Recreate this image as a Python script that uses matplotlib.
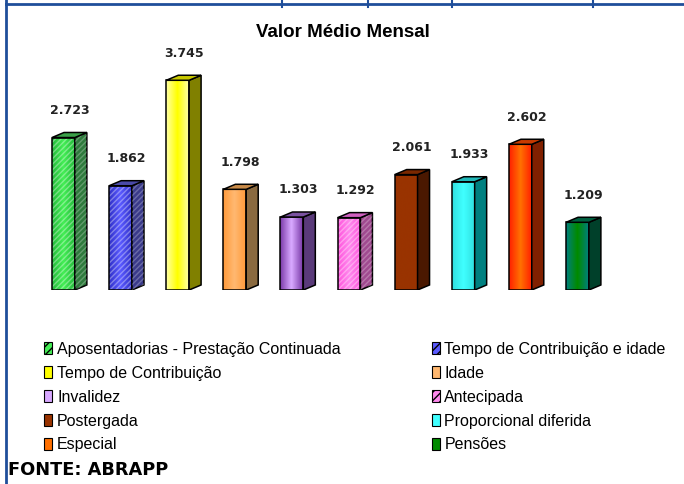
import numpy as np
import matplotlib
matplotlib.use("Agg")
import matplotlib.pyplot as plt
from matplotlib.patches import Polygon, Patch
from matplotlib.lines import Line2D
from matplotlib.colors import LinearSegmentedColormap

# ---------- data ----------
categories = ["Aposentadorias - Prestação Continuada", "Tempo de Contribuição e idade",
              "Tempo de Contribuição", "Idade", "Invalidez", "Antecipada",
              "Postergada", "Proporcional diferida", "Especial", "Pensões"]
values = [2723, 1862, 3745, 1798, 1303, 1292, 2061, 1933, 2602, 1209]

# front-face gradient (edge, centre), side colour, top colour, hatched?
front_edge = ["#22b83a", "#3030c8", "#ffffa8", "#ff9a3a", "#7a3aa8",
              "#ff55dd", "#993300", "#30e0e0", "#ff2000", "#008080"]
front_mid = ["#44ee55", "#5a5aff", "#ffff00", "#ffb870", "#d8a8ff",
             "#ff88ee", "#993300", "#40ffff", "#ff7000", "#008a00"]
side_col = ["#2e7a3c", "#3a3a8a", "#808000", "#8a6a40", "#5a3a7a",
            "#a04a90", "#4a1800", "#008080", "#802000", "#00402a"]
top_col = ["#3aa048", "#4a4aa8", "#c8c800", "#c88a48", "#7a52a0",
           "#d060c0", "#7a2800", "#20b8b8", "#c83a00", "#006040"]
hatched = [True, True, False, False, False, True, False, False, False, False]

W = 0.40    # bar width (data units)
DX = 0.21   # depth offset x
DY = 90     # depth offset y

fig = plt.figure(figsize=(6.84, 4.84), dpi=100)
ax = fig.add_axes([0.051, 0.4008, 0.835, 0.4628])
ax.set_xlim(-0.5, 9.5)
ax.set_ylim(0, 4000)
ax.axis("off")

x = np.arange(len(values))
grad = np.linspace(0, 1, 64)
grad = np.abs(grad - 0.5) * 2  # 1 at edges, 0 in middle
grad = grad[np.newaxis, :]

bars = ax.bar(x, values, width=W, color=front_edge, edgecolor="none", zorder=2)
for i, (b, v) in enumerate(zip(bars, values)):
    cm = LinearSegmentedColormap.from_list("g", [front_mid[i], front_edge[i]])
    im = ax.imshow(grad, cmap=cm, aspect="auto", zorder=3,
                   extent=(x[i] - W / 2, x[i] + W / 2, 0, v))
    im.set_clip_path(b)
    if hatched[i]:
        ax.bar(x[i], v, width=W, fill=False, edgecolor=(1, 1, 1, 0.35),
               linewidth=0, hatch="//////", zorder=4)
    ax.bar(x[i], v, width=W, fill=False, edgecolor="black", linewidth=1.1, zorder=5)
    r = x[i] + W / 2
    l = x[i] - W / 2
    side = Polygon([(r, 0), (r + DX, DY), (r + DX, v + DY), (r, v)], closed=True,
                   facecolor=side_col[i], edgecolor="black", linewidth=1.1, zorder=5)
    ax.add_patch(side)
    if hatched[i]:
        ax.add_patch(Polygon([(r, 0), (r + DX, DY), (r + DX, v + DY), (r, v)], closed=True,
                             fill=False, edgecolor=(1, 1, 1, 0.25), linewidth=0,
                             hatch="//////", zorder=5))
    top = Polygon([(l, v), (r, v), (r + DX, v + DY), (l + DX, v + DY)], closed=True,
                  facecolor=top_col[i], edgecolor="black", linewidth=1.1, zorder=5)
    ax.add_patch(top)
    ax.annotate(f"{v:,}".replace(",", "."), (x[i] + DX / 2, v + DY),
                xytext=(0, 16), textcoords="offset points", ha="center", va="center",
                fontsize=9, fontweight="bold", color="#222222",
                family="DejaVu Sans")

fig.text(0.502, 0.932, "Valor Médio Mensal", ha="center", va="center",
         fontsize=13.5, fontweight="bold", family="Liberation Sans")

# ---------- legend (row-major, two columns) ----------
handles = []
for i in range(len(values)):
    handles.append(Patch(facecolor=front_mid[i] if i != 6 else front_edge[i],
                         edgecolor="black", linewidth=0.8,
                         hatch="////" if hatched[i] else None))
leg_font = {"family": "Liberation Sans", "size": 11.5}
for col, xpos in [(0, 0.065), (1, 0.631)]:
    idx = list(range(col, len(values), 2))
    fig.legend([handles[k] for k in idx], [categories[k] for k in idx],
               loc="upper left", bbox_to_anchor=(xpos, 0.294), ncol=1,
               frameon=False, prop=leg_font, handlelength=0.5, handleheight=0.8,
               handletextpad=0.3, labelspacing=0.56, borderaxespad=0,
               borderpad=0)

fig.text(0.012, 0.029, "FONTE: ABRAPP", ha="left", va="center",
         fontsize=12.8, fontweight="bold", family="DejaVu Sans")

# ---------- blue frame ----------
blue = "#1f4e9a"
fig.add_artist(Line2D([0.009, 0.009], [0, 1], transform=fig.transFigure,
                      color=blue, linewidth=2))
fig.add_artist(Line2D([0.009, 1], [0.991, 0.991], transform=fig.transFigure,
                      color=blue, linewidth=2))
for xp in [0.412, 0.538, 0.661, 0.867]:
    fig.add_artist(Line2D([xp, xp], [0.985, 1], transform=fig.transFigure,
                          color=blue, linewidth=1.5))

fig.savefig("out.png", dpi=100)
